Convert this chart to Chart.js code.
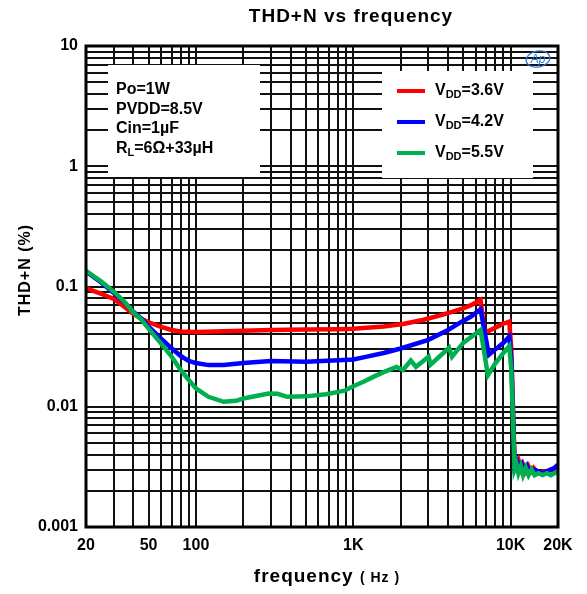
<!DOCTYPE html>
<html>
<head>
<meta charset="utf-8">
<script src="https://cdn.jsdelivr.net/npm/chart.js@4.4.0/dist/chart.umd.min.js"></script>
<style>
  html, body { margin: 0; padding: 0; background: #fff; }
  canvas { display: block; }
</style>
</head>
<body>
<canvas id="thdChart" width="587" height="594"></canvas>
<script>
const FONT = '"Liberation Sans", Arial, Helvetica, sans-serif';

// axis grid (Hz / %) and labelled ticks
const xGridFreqs = [20, 30, 40, 50, 60, 70, 80, 90,
  100, 200, 300, 400, 500, 600, 700, 800, 900,
  1000, 2000, 3000, 4000, 5000, 6000, 7000, 8000, 9000,
  10000, 20000];
const xLabelValues = [20, 50, 100, 1000, 10000, 20000];
const xLabelTexts = ['20', '50', '100', '1K', '10K', '20K'];
const yDecades = [0.001, 0.01, 0.1, 1];
const yLabelValues = [0.001, 0.01, 0.1, 1, 10];
const yLabelTexts = ['0.001', '0.01', '0.1', '1', '10'];

// VDD = 3.6V
const freq36 = [20, 25, 30, 35, 40, 45, 50, 60, 70, 80, 100, 150, 200, 300, 500, 800,
  1000, 1560, 2070, 2760, 3670, 4890, 5600, 6440, 6800, 7200, 8000, 9000, 9800, 10100,
  10600, 11000, 11300, 11700, 12000, 12500, 13000, 13500, 14000, 15000, 16000, 17000, 18000, 19000, 20000];
const thd36 = [0.097, 0.087, 0.0787, 0.068, 0.0591, 0.054, 0.0504, 0.0461, 0.0435, 0.0422, 0.0419, 0.0424, 0.0428, 0.0435, 0.0438, 0.0442,
  0.0445, 0.0464, 0.0487, 0.0527, 0.058, 0.065, 0.070, 0.0775, 0.043, 0.0425, 0.0455, 0.049, 0.051, 0.03,
  0.0034, 0.0031, 0.0035, 0.003, 0.0033, 0.0029, 0.0032, 0.0029, 0.0031, 0.0028, 0.0029, 0.0029, 0.003, 0.0029, 0.003];

// VDD = 4.2V
const freq42 = [20, 25, 30, 35, 40, 45, 50, 60, 70, 80, 90, 100, 120, 150, 200, 300, 500, 800,
  1000, 1200, 1560, 2000, 3000, 4000, 4890, 5600, 6440, 7270, 8000, 9000, 9800, 10100,
  10600, 11000, 11400, 11800, 12200, 12700, 13200, 14000, 15000, 16000, 17000, 18000, 19000, 20000];
const thd42 = [0.133, 0.108, 0.0883, 0.074, 0.0617, 0.054, 0.0464, 0.0369, 0.0306, 0.0264, 0.0241, 0.0231, 0.0222, 0.0222, 0.0231, 0.024, 0.0237, 0.0244,
  0.0247, 0.026, 0.028, 0.0305, 0.036, 0.0435, 0.051, 0.0562, 0.0647, 0.027, 0.030, 0.034, 0.0383, 0.025,
  0.0032, 0.0035, 0.003, 0.0033, 0.0029, 0.0032, 0.0028, 0.003, 0.0029, 0.0028, 0.0029, 0.003, 0.0031, 0.0033];

// VDD = 5.5V
const freq55 = [20, 25, 30, 35, 40, 45, 50, 60, 70, 80, 90, 100, 120, 150, 180, 200, 250, 290, 330, 380, 500, 670, 880,
  1000, 1170, 1350, 1560, 1880, 2070, 2320, 2500, 3010, 3100, 4060, 4240, 5000, 6440, 7170, 8000, 9000, 9800, 10100,
  10600, 10900, 11200, 11600, 12000, 12500, 13000, 13600, 14200, 15000, 16000, 17000, 18000, 19000, 20000];
const thd55 = [0.135, 0.11, 0.0906, 0.075, 0.061, 0.053, 0.0447, 0.0335, 0.0261, 0.0202, 0.0167, 0.0142, 0.0121, 0.011, 0.0112, 0.0117, 0.0124, 0.0129, 0.0128, 0.0121, 0.0122, 0.0127, 0.0136,
  0.0148, 0.0162, 0.0178, 0.0194, 0.0214, 0.0202, 0.0242, 0.0215, 0.0261, 0.0224, 0.0309, 0.0261, 0.034, 0.0435, 0.0183, 0.023, 0.028, 0.0319, 0.02,
  0.003, 0.0033, 0.0028, 0.0032, 0.0027, 0.0031, 0.0027, 0.003, 0.0027, 0.0028, 0.0027, 0.0028, 0.0027, 0.0028, 0.0029];

const seriesNames = ['3.6V', '4.2V', '5.5V'];
const seriesColors = ['#ff0000', '#0000ff', '#00b050'];
const infoLines = [
  [['Po=1W', false]],
  [['PVDD=8.5V', false]],
  [['Cin=1\u00b5F', false]],
  [['R', false], ['L', true], ['=6\u03a9+33\u00b5H', false]]
];

// gridline values for the THD axis: 1..9 in each decade, plus the top
const yGridValues = [];
yDecades.forEach(d => { for (let m = 1; m <= 9; m++) yGridValues.push(m * d); });
yGridValues.push(10);

function labelFor(v, values, texts) {
  const i = values.findIndex(t => Math.abs(v - t) / t < 1e-6);
  return i >= 0 ? texts[i] : '';
}

function toPoints(xs, ys) {
  return xs.map((x, i) => ({ x: x, y: ys[i] }));
}

// mixed-size text (for subscripts)
function drawRich(ctx, parts, x, y) {
  let cx = x;
  parts.forEach(([t, sub]) => {
    ctx.font = (sub ? 'bold 11px ' : 'bold 16px ') + FONT;
    ctx.fillText(t, cx, sub ? y + 4 : y);
    cx += ctx.measureText(t).width;
  });
}

const decorPlugin = {
  id: 'decor',
  beforeDatasetsDraw(chart) {
    const ctx = chart.ctx;
    ctx.save();
    // condition box and legend box sit on top of the grid
    ctx.fillStyle = '#fff';
    ctx.fillRect(108, 65, 152, 112);
    ctx.fillRect(382, 71, 151, 107);

    ctx.fillStyle = '#000';
    ctx.textBaseline = 'middle';
    ctx.textAlign = 'left';
    infoLines.forEach((parts, i) => drawRich(ctx, parts, 116, 90 + i * 19.5));

    seriesNames.forEach((name, i) => {
      const y = 91 + i * 31;
      ctx.strokeStyle = seriesColors[i];
      ctx.lineWidth = 4;
      ctx.beginPath();
      ctx.moveTo(397, y);
      ctx.lineTo(425, y);
      ctx.stroke();
      ctx.fillStyle = '#000';
      drawRich(ctx, [['V', false], ['DD', true], ['=' + name, false]], 435, y);
    });
    ctx.restore();
  },
  afterDatasetsDraw(chart) {
    const { ctx, chartArea: a } = chart;
    ctx.save();
    ctx.strokeStyle = '#000';
    ctx.lineWidth = 3;
    ctx.strokeRect(a.left, a.top, a.right - a.left, a.bottom - a.top);
    ctx.restore();
  },
  afterDraw(chart) {
    const ctx = chart.ctx;
    ctx.save();
    ctx.fillStyle = '#000';
    ctx.textBaseline = 'middle';

    // chart title
    ctx.textAlign = 'center';
    ctx.letterSpacing = '1px';
    ctx.font = 'bold 19px ' + FONT;
    ctx.fillText('THD+N vs frequency', 351, 17);

    // x-axis title with smaller unit
    ctx.font = 'bold 19px ' + FONT;
    const w1 = ctx.measureText('frequency ').width;
    ctx.font = 'bold 14px ' + FONT;
    const w2 = ctx.measureText('( Hz )').width;
    let x0 = 327 - (w1 + w2) / 2;
    ctx.textAlign = 'left';
    ctx.font = 'bold 19px ' + FONT;
    ctx.fillText('frequency ', x0, 577);
    ctx.font = 'bold 14px ' + FONT;
    ctx.fillText('( Hz )', x0 + w1, 578);

    // y-axis title
    ctx.translate(26, 270);
    ctx.rotate(-Math.PI / 2);
    ctx.textAlign = 'center';
    ctx.font = 'bold 16px ' + FONT;
    ctx.fillText('THD+N (%)', 0, 0);
    ctx.restore();

    // small AP mark in the corner
    ctx.save();
    ctx.strokeStyle = '#2b7bd8';
    ctx.fillStyle = '#2b7bd8';
    ctx.lineWidth = 1.3;
    ctx.beginPath();
    ctx.ellipse(538, 59, 12, 8, -0.2, 0, Math.PI * 2);
    ctx.stroke();
    ctx.font = 'italic 12px ' + FONT;
    ctx.textAlign = 'center';
    ctx.textBaseline = 'middle';
    ctx.fillText('Ap', 538, 60);
    ctx.restore();
  }
};

const curveData = [toPoints(freq36, thd36), toPoints(freq42, thd42), toPoints(freq55, thd55)];

new Chart(document.getElementById('thdChart'), {
  type: 'line',
  data: {
    datasets: seriesNames.map((name, i) => ({
      label: 'VDD=' + name,
      data: curveData[i],
      borderColor: seriesColors[i],
      backgroundColor: seriesColors[i],
      borderWidth: 4.5,
      pointRadius: 0,
      tension: 0,
      fill: false,
      order: 2 - i
    }))
  },
  options: {
    responsive: false,
    animation: false,
    layout: { padding: { top: 46, right: 29, left: 0, bottom: 0 } },
    plugins: {
      legend: { display: false },
      tooltip: { enabled: false },
      title: { display: false }
    },
    scales: {
      x: {
        type: 'logarithmic',
        min: 20,
        max: 20000,
        afterBuildTicks: s => { s.ticks = xGridFreqs.map(v => ({ value: v })); },
        afterFit: s => { s.height = 67; },
        ticks: {
          autoSkip: false,
          maxRotation: 0,
          padding: 9,
          color: '#000',
          font: { family: FONT, size: 16, weight: 'bold' },
          callback: v => labelFor(v, xLabelValues, xLabelTexts)
        },
        grid: { color: '#111', lineWidth: 2, drawTicks: false },
        border: { display: false }
      },
      y: {
        type: 'logarithmic',
        min: 0.001,
        max: 10,
        afterBuildTicks: s => { s.ticks = yGridValues.map(v => ({ value: v })); },
        afterFit: s => { s.width = 86; },
        ticks: {
          autoSkip: false,
          padding: 8,
          color: '#000',
          font: { family: FONT, size: 16, weight: 'bold' },
          callback: v => labelFor(v, yLabelValues, yLabelTexts)
        },
        grid: { color: '#111', lineWidth: 2, drawTicks: false },
        border: { display: false }
      }
    }
  },
  plugins: [decorPlugin]
});
</script>
</body>
</html>
